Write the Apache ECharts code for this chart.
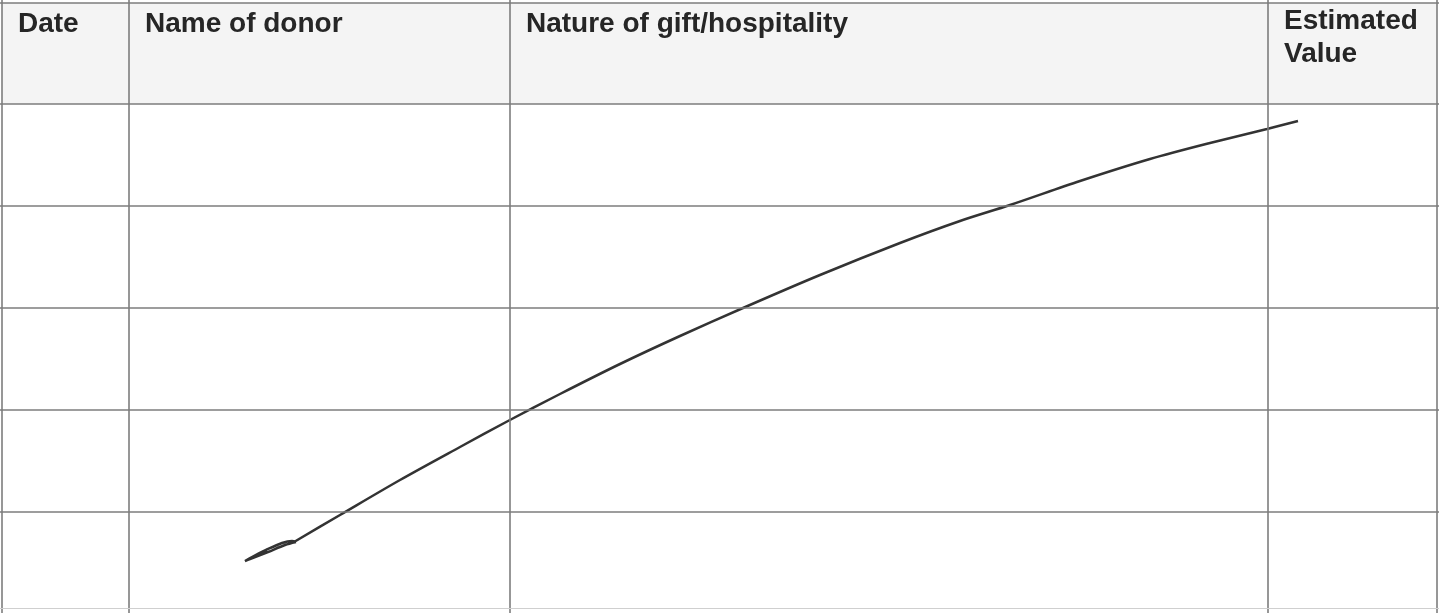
<!DOCTYPE html>
<html>
<head>
<meta charset="utf-8">
<title>Gifts and hospitality</title>
<script src="https://cdn.jsdelivr.net/npm/echarts@6/dist/echarts.min.js"></script>
<style>
  html, body { margin: 0; padding: 0; background: #fff; }
  #chart { width: 1439px; height: 613px; }
</style>
</head>
<body>
<div id="chart"></div>
<script>
// table layout in page units (x to the right, y downward)
const colEdges = [2, 129, 510, 1268, 1437];
const rowEdges = [3, 104, 206, 308, 410, 512, 608];
const headers = ['Date', 'Name of donor', 'Nature of gift/hospitality', 'Estimated\nValue'];

// the hand drawn stroke across the empty rows
const strokeX = [294, 340, 400, 460, 508, 560, 620, 680, 743, 820, 900, 960, 1010, 1080, 1150, 1210, 1267, 1298];
const strokeY = [542, 515, 480, 447, 421, 394, 364, 336, 308, 275, 243, 221, 205, 181, 159, 143, 129, 121];
// little scribbled loop where the pen started
const loopX = [296, 285, 268, 250, 245, 252, 266, 282, 292, 296];
const loopY = [542, 545, 552, 559, 561, 557, 550, 543, 541, 542];

const chart = echarts.init(document.getElementById('chart'));

const ruleStyle = { color: '#7d7d7d', width: 1.6, type: 'solid' };
const penStyle = { color: '#333333', width: 2.5 };

// vertical + horizontal rules of the table, bottom edge is faint in the scan
const ruleLines = colEdges.map(x => ({ xAxis: x }))
    .concat(rowEdges.map((y, i) => i === rowEdges.length - 1
        ? { yAxis: y, lineStyle: { color: '#cfcfcf', width: 1.2 } }
        : { yAxis: y }));

// header labels sit at the top-left of each column
const headerPoints = headers.map((h, i) => ({
    value: [colEdges[i] + 16, i === 3 ? 5 : 8],
    name: h
}));

const option = {
    backgroundColor: '#ffffff',
    animation: false,
    grid: { left: 0, right: 0, top: 0, bottom: 0 },
    xAxis: { type: 'value', min: 0, max: 1439, show: false },
    yAxis: { type: 'value', min: 0, max: 613, inverse: true, show: false },
    series: [
        {
            // table frame (header shade + rules)
            type: 'line',
            data: [],
            silent: true,
            markArea: {
                silent: true,
                itemStyle: { color: '#f4f4f4' },
                data: [[{ coord: [colEdges[0], rowEdges[0]] }, { coord: [colEdges[4], rowEdges[1]] }]]
            },
            markLine: {
                silent: true,
                symbol: ['none', 'none'],
                label: { show: false },
                lineStyle: ruleStyle,
                data: ruleLines
            }
        },
        {
            // column headings
            type: 'scatter',
            symbolSize: 0,
            silent: true,
            itemStyle: { opacity: 1 },
            data: headerPoints,
            label: {
                show: true,
                position: 'inside',
                align: 'left',
                verticalAlign: 'top',
                formatter: p => p.name,
                fontFamily: 'Liberation Sans, Arial, sans-serif',
                fontWeight: 'bold',
                fontSize: 28,
                lineHeight: 33,
                color: '#262626'
            }
        },
        {
            // pen stroke
            type: 'line',
            data: strokeX.map((x, i) => [x, strokeY[i]]),
            showSymbol: false,
            smooth: 0.3,
            silent: true,
            lineStyle: penStyle
        },
        {
            type: 'line',
            data: loopX.map((x, i) => [x, loopY[i]]),
            showSymbol: false,
            smooth: 0.3,
            silent: true,
            lineStyle: penStyle
        }
    ]
};

chart.setOption(option);
</script>
</body>
</html>
